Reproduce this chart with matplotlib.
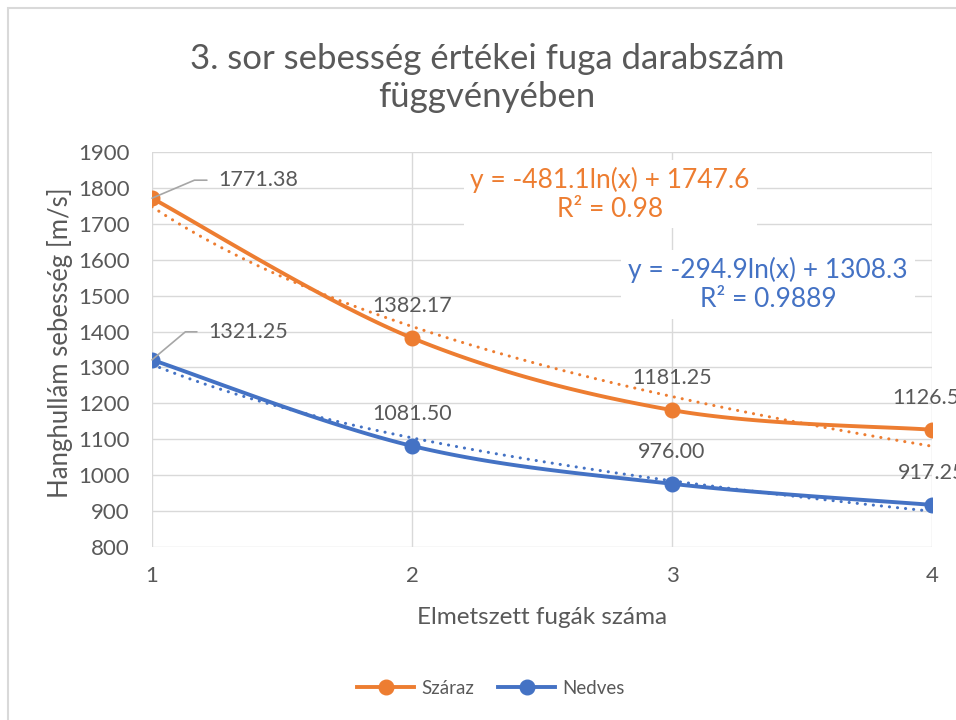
import numpy as np
import matplotlib
matplotlib.use("Agg")
import matplotlib.pyplot as plt
from matplotlib.lines import Line2D
from matplotlib.patches import Rectangle

# fugák száma és mért sebességek
fugak = [1, 2, 3, 4]
szaraz = [1771.38, 1382.17, 1181.25, 1126.50]
nedves = [1321.25, 1081.50, 976.00, 917.25]

# logaritmikus trendvonalak együtthatói és R^2
trend_szaraz = (-481.1, 1747.6, "0.98")
trend_nedves = (-294.9, 1308.3, "0.9889")

ORANGE = "#ED7D31"
BLUE = "#4472C4"
GRAY = "#595959"
GRID = "#D9D9D9"

plt.rcParams["font.family"] = ["Lato", "DejaVu Sans"]


def smooth(x, y, n=40):
    # Catmull-Rom szerű simítás, mint az Excel "simított vonal"
    x = np.asarray(x, float)
    y = np.asarray(y, float)
    px = np.r_[x[0], x, x[-1]]
    py = np.r_[y[0], y, y[-1]]
    xs, ys = [], []
    for i in range(1, len(px) - 2):
        p0 = np.array([px[i - 1], py[i - 1]])
        p1 = np.array([px[i], py[i]])
        p2 = np.array([px[i + 1], py[i + 1]])
        p3 = np.array([px[i + 2], py[i + 2]])
        c1 = p1 + (p2 - p0) / 6
        c2 = p2 - (p3 - p1) / 6
        t = np.linspace(0, 1, n)[:, None]
        b = (1 - t) ** 3 * p1 + 3 * (1 - t) ** 2 * t * c1 + 3 * (1 - t) * t ** 2 * c2 + t ** 3 * p2
        xs.append(b[:, 0])
        ys.append(b[:, 1])
    return np.concatenate(xs), np.concatenate(ys)


fig = plt.figure(figsize=(9.56, 7.2), dpi=100)
ax = fig.add_axes([152 / 956, 1 - 547 / 720, 780 / 956, 395 / 720])

# diagram keret
fig.patches.append(Rectangle((8 / 956, -0.1), 1.2, 1 - 8 / 720 + 0.1, transform=fig.transFigure,
                             fill=False, edgecolor=GRID, lw=1.5, zorder=0))

ax.set_xlim(1, 4)
ax.set_ylim(800, 1900)
ax.set_xticks(fugak)
ax.set_yticks(np.arange(800, 1901, 100))
ax.grid(True, color=GRID, lw=1)
ax.set_axisbelow(True)
for s in ax.spines.values():
    s.set_visible(False)
ax.tick_params(length=0, labelsize=16, labelcolor=GRAY)
ax.tick_params(axis="y", pad=16)
ax.tick_params(axis="x", pad=14)

xt = np.linspace(1, 4, 200)
for data, trend, col in [(szaraz, trend_szaraz, ORANGE), (nedves, trend_nedves, BLUE)]:
    sx, sy = smooth(fugak, data)
    ax.plot(sx, sy, color=col, lw=2.8, solid_capstyle="round", zorder=3)
    ax.plot(fugak, data, "o", color=col, ms=10.5, zorder=4)
    a, b, r2 = trend
    ax.plot(xt, a * np.log(xt) + b, color=col, lw=2.2, ls=(0, (0.05, 2.6)),
            dash_capstyle="round", zorder=2)

# adatcímkék
for data in (szaraz, nedves):
    for i, (x, v) in enumerate(zip(fugak, data)):
        if i == 0:
            continue
        ax.annotate(f"{v:.2f}", (x, v), xytext=(0, 32), textcoords="offset pixels",
                    ha="center", va="center", fontsize=15.5, color=GRAY,
                    annotation_clip=False, zorder=5)

for data, off, ang in [(szaraz, (66, 18), 23), (nedves, (56, 28), 40)]:
    ax.annotate(f"{data[0]:.2f}", (fugak[0], data[0]), xytext=off, textcoords="offset pixels",
                ha="left", va="center", fontsize=15.5, color=GRAY, zorder=5,
                arrowprops=dict(arrowstyle="-", color="#A6A6A6", lw=1.2, shrinkA=6, shrinkB=0,
                                relpos=(0, 0.5),
                                connectionstyle=f"angle,angleA=0,angleB={ang},rad=0"))

# trendvonal egyenletek
for (a, b, r2), col, pos in [(trend_szaraz, ORANGE, (2.762, 1783)),
                             (trend_nedves, BLUE, (3.369, 1530))]:
    ax.text(pos[0], pos[1], f"y = {a}ln(x) + {b}\nR² = {r2}", ha="center", va="center",
            fontsize=19, color=col, linespacing=1.2, zorder=6,
            bbox=dict(facecolor="white", edgecolor="none", pad=5))

fig.text(487 / 956, 1 - 78 / 720, "3. sor sebesség értékei fuga darabszám\nfüggvényében",
         ha="center", va="center", fontsize=25, color=GRAY, linespacing=1.2)
fig.text(542 / 956, 1 - 617 / 720, "Elmetszett fugák száma", ha="center", va="center",
         fontsize=17.5, color=GRAY)
fig.text(60 / 956, 1 - 343 / 720, "Hanghullám sebesség [m/s]", ha="center", va="center",
         rotation=90, fontsize=18.5, color=GRAY)

handles = [Line2D([], [], color=ORANGE, lw=2.8, marker="o", ms=10.5),
           Line2D([], [], color=BLUE, lw=2.8, marker="o", ms=10.5)]
fig.legend(handles, ["Száraz", "Nedves"], loc="center", bbox_to_anchor=(491 / 956, 1 - 688 / 720),
           ncol=2, frameon=False, fontsize=13.5, labelcolor=GRAY, handlelength=3.0,
           columnspacing=1.3, handletextpad=0.4)

fig.savefig("out.png", dpi=100)
